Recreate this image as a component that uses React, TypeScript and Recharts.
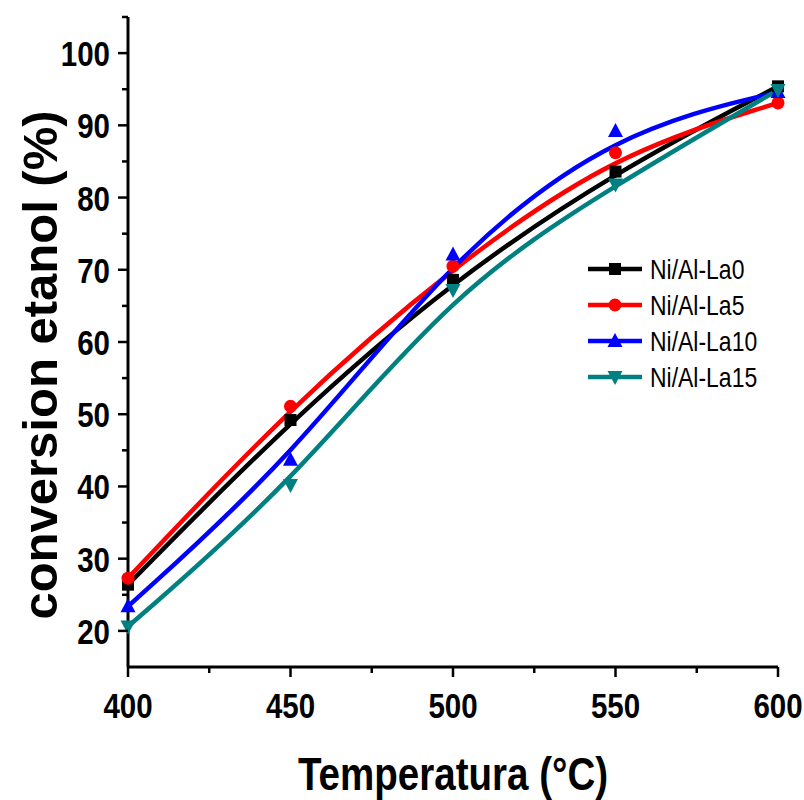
import { Legend, Line, LineChart, XAxis, YAxis } from "recharts";

const temps = [400, 450, 500, 550, 600];
const la0 = [26.4, 49.2, 68.6, 83.6, 95.4];
const la5 = [27.3, 51.1, 70.5, 86.2, 93.1];
const la10 = [23.4, 43.7, 72.1, 89.2, 94.6];
const la15 = [20.6, 40.2, 67.2, 81.8, 94.9];

const xTicks = [400, 425, 450, 475, 500, 525, 550, 575, 600];
const yTicks = [20, 25, 30, 35, 40, 45, 50, 55, 60, 65, 70, 75, 80, 85, 90, 95, 100, 105];

type Shape = "square" | "circle" | "up" | "down";

const series: { key: string; name: string; color: string; shape: Shape }[] = [
  { key: "la0", name: "Ni/Al-La0", color: "#000000", shape: "square" },
  { key: "la5", name: "Ni/Al-La5", color: "#ff0000", shape: "circle" },
  { key: "la10", name: "Ni/Al-La10", color: "#0000ff", shape: "up" },
  { key: "la15", name: "Ni/Al-La15", color: "#008080", shape: "down" },
];

const data = temps.map((t, i) => ({
  t,
  la0: la0[i],
  la5: la5[i],
  la10: la10[i],
  la15: la15[i],
}));

const SANS = "'Liberation Sans', Arial, sans-serif";

// no Arial Narrow here, so squeeze Liberation Sans horizontally
function NarrowText({ x, y, anchor = "start", size, bold, children }: any) {
  return (
    <g transform={`translate(${x},${y}) scale(0.82,1)`}>
      <text x={0} y={0} textAnchor={anchor} fontFamily={SANS} fontWeight={bold ? "bold" : "normal"} fontSize={size} fill="#000">
        {children}
      </text>
    </g>
  );
}

function Marker({ cx, cy, shape, color }: { cx: number; cy: number; shape: Shape; color: string }) {
  if (cx == null || cy == null) return null;
  if (shape === "square") return <rect x={cx - 6} y={cy - 6} width={12} height={12} fill={color} />;
  if (shape === "circle") return <circle cx={cx} cy={cy} r={6.5} fill={color} />;
  if (shape === "up")
    return <path d={`M${cx},${cy - 8} L${cx + 7.5},${cy + 6} L${cx - 7.5},${cy + 6} Z`} fill={color} />;
  return <path d={`M${cx},${cy + 8} L${cx + 7.5},${cy - 6} L${cx - 7.5},${cy - 6} Z`} fill={color} />;
}

function XTick({ x, y, payload }: any) {
  const major = payload.value % 50 === 0;
  return (
    <g>
      <line x1={x} x2={x} y1={y} y2={y + (major ? 10 : 6)} stroke="#000" strokeWidth={2.5} />
      {major && (
        <NarrowText x={x} y={y + 51} anchor="middle" size={36} bold>
          {payload.value}
        </NarrowText>
      )}
    </g>
  );
}

function YTick({ x, y, payload }: any) {
  const major = payload.value % 10 === 0 && payload.value <= 100;
  return (
    <g>
      <line x1={x} x2={x - (major ? 10 : 6)} y1={y} y2={y} stroke="#000" strokeWidth={2.5} />
      {major && (
        <NarrowText x={x - 18} y={y + 13} anchor="end" size={36} bold>
          {payload.value}
        </NarrowText>
      )}
    </g>
  );
}

function XTitle({ viewBox }: any) {
  const cx = viewBox.x + viewBox.width / 2;
  return (
    <NarrowText x={cx} y={viewBox.y + 123} anchor="middle" size={47} bold>
      Temperatura (°C)
    </NarrowText>
  );
}

function YTitle({ viewBox }: any) {
  const cx = 40;
  const cy = viewBox.y + viewBox.height / 2 + 23;
  return (
    <text
      x={cx}
      y={cy}
      transform={`rotate(-90, ${cx}, ${cy})`}
      textAnchor="middle"
      dominantBaseline="central"
      fontFamily={SANS}
      fontWeight="bold"
      fontSize={49}
      fill="#000"
    >
      conversion etanol (%)
    </text>
  );
}

function LegendBox() {
  return (
    <svg width={200} height={150}>
      {series.map((s, i) => {
        const y = 24 + i * 36;
        return (
          <g key={s.key}>
            <line x1={8} x2={62} y1={y} y2={y} stroke={s.color} strokeWidth={4.5} />
            <Marker cx={35} cy={y} shape={s.shape} color={s.color} />
            <NarrowText x={70} y={y + 10} size={28}>
              {s.name}
            </NarrowText>
          </g>
        );
      })}
    </svg>
  );
}

export default function App() {
  return (
    <div style={{ position: "absolute", left: 0, top: 0, width: 804, height: 800, background: "#fff" }}>
      <LineChart width={804} height={800} data={data} margin={{ top: 17, right: 26, bottom: 0, left: 0 }}>
        <XAxis
          dataKey="t"
          type="number"
          domain={[400, 600]}
          ticks={xTicks}
          interval={0}
          height={133}
          tickSize={0}
          tickMargin={0}
          tickLine={false}
          axisLine={{ stroke: "#000", strokeWidth: 3 }}
          tick={<XTick />}
          label={(props: any) => <XTitle {...props} />}
        />
        <YAxis
          type="number"
          domain={[15, 105]}
          ticks={yTicks}
          interval={0}
          width={128}
          tickSize={0}
          tickMargin={0}
          tickLine={false}
          allowDataOverflow
          axisLine={{ stroke: "#000", strokeWidth: 3 }}
          tick={<YTick />}
          label={(props: any) => <YTitle {...props} />}
        />
        <Legend
          layout="vertical"
          align="center"
          verticalAlign="middle"
          content={() => <LegendBox />}
          wrapperStyle={{ position: "absolute", left: 580, top: 245, width: 200, height: 150 }}
        />
        {series.map((s) => (
          <Line
            key={s.key}
            type="basis"
            dataKey={s.key}
            name={s.name}
            stroke={s.color}
            strokeWidth={4.5}
            isAnimationActive={false}
            dot={(p: any) => <Marker key={`${s.key}-${p.index}`} cx={p.cx} cy={p.cy} shape={s.shape} color={s.color} />}
            activeDot={false}
          />
        ))}
      </LineChart>
    </div>
  );
}
